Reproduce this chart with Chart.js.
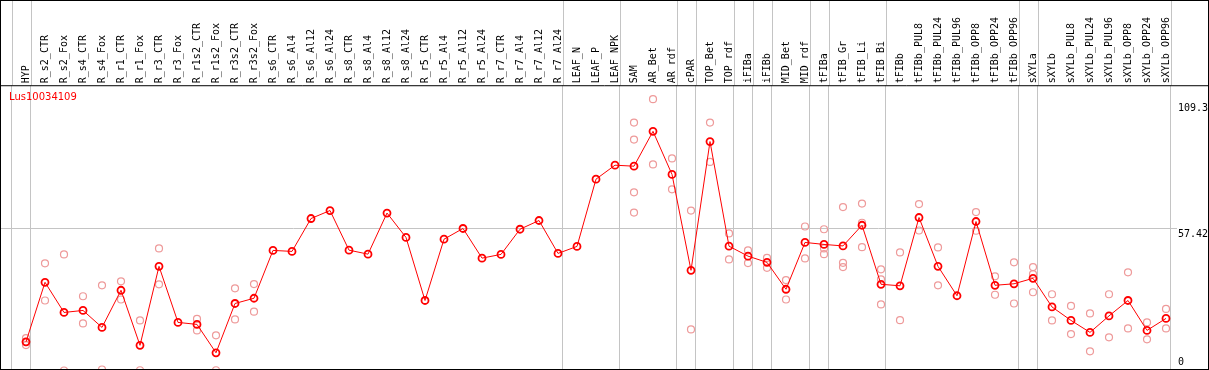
<!DOCTYPE html>
<html>
<head>
<meta charset="utf-8">
<script src="https://cdn.jsdelivr.net/npm/chart.js@4.4.0/dist/chart.umd.min.js"></script>
<style>
  html, body { margin: 0; padding: 0; background: #fff; }
  #wrap { width: 1209px; height: 370px; position: relative; }
</style>
</head>
<body>
<div id="wrap"><canvas id="chart"></canvas></div>
<script>
// Expression profile of one gene across tissues / treatments

const geneName = 'Lus10034109';

const categories = [
    'HYP',
    'R_s2_CTR', 'R_s2_Fox', 'R_s4_CTR', 'R_s4_Fox', 'R_r1_CTR', 'R_r1_Fox', 'R_r3_CTR', 'R_r3_Fox',
    'R_r1s2_CTR', 'R_r1s2_Fox', 'R_r3s2_CTR', 'R_r3s2_Fox',
    'R_s6_CTR', 'R_s6_Al4', 'R_s6_Al12', 'R_s6_Al24', 'R_s8_CTR', 'R_s8_Al4', 'R_s8_Al12', 'R_s8_Al24',
    'R_r5_CTR', 'R_r5_Al4', 'R_r5_Al12', 'R_r5_Al24', 'R_r7_CTR', 'R_r7_Al4', 'R_r7_Al12', 'R_r7_Al24',
    'LEAF_N', 'LEAF_P', 'LEAF_NPK',
    'SAM', 'AR_Bet', 'AR_rdf', 'cPAR', 'TOP_Bet', 'TOP_rdf', 'iFIBa', 'iFIBb', 'MID_Bet', 'MID_rdf',
    'tFIBa', 'tFIB_Gr', 'tFIB_Li', 'tFIB_Bi', 'tFIBb',
    'tFIBb_PUL8', 'tFIBb_PUL24', 'tFIBb_PUL96', 'tFIBb_OPP8', 'tFIBb_OPP24', 'tFIBb_OPP96',
    'sXYLa', 'sXYLb',
    'sXYLb_PUL8', 'sXYLb_PUL24', 'sXYLb_PUL96', 'sXYLb_OPP8', 'sXYLb_OPP24', 'sXYLb_OPP96'
];

// mean value per sample
const meanValues = [
    11.9, 35.8, 23.7, 24.5, 17.7, 32.6, 10.5, 42.2, 19.7, 18.9, 7.5, 27.3, 29.4,
    48.6, 48.2, 61.4, 64.6, 48.7, 47.1, 63.6, 53.8, 28.5, 53.1, 57.4, 45.5, 47.0, 57.1, 60.6, 47.4,
    50.2, 77.2, 82.8,
    82.4, 96.4, 79.1, 40.6, 92.3, 50.3, 46.3, 43.8, 33.0, 51.8,
    51.0, 50.4, 58.7, 35.0, 34.4,
    61.8, 42.2, 30.4, 60.2, 34.6, 35.2,
    37.4, 25.9,
    20.5, 15.7, 22.3, 28.5, 16.5, 21.3
];

// individual replicates per sample (empty = none shown)
const replicateValues = [
    [13.4, 11.8, 10.6],
    [43.4, 28.5], [47.0, 0.4], [30.2, 19.3], [34.6, 0.8], [36.2, 28.9], [20.5, 0.5], [49.4, 35.0], [],
    [21.1, 16.5], [14.5, 0.5], [33.4, 20.9], [35.1, 24.0],
    [], [], [], [], [], [], [], [], [], [], [], [], [], [], [], [],
    [], [], [],
    [99.9, 93.1, 71.9, 63.8], [109.3, 83.1], [85.5, 73.1], [64.6, 16.9], [99.9, 84.1], [55.4, 45.0],
    [48.6, 43.5], [45.6, 41.6], [36.7, 28.9], [58.2, 45.4],
    [57.1, 49.4, 47.1], [66.0, 43.6, 41.9], [67.4, 59.7, 49.9], [41.0, 37.0, 26.9], [47.8, 20.6],
    [67.2, 56.6], [49.8, 34.6], [], [64.0, 56.5], [38.2, 30.8], [43.8, 27.3],
    [41.9, 39.1, 31.8], [31.0, 20.5],
    [26.3, 15.0], [23.3, 8.1], [31.0, 13.7], [39.8, 17.3], [19.7, 12.9], [25.1, 17.3]
];

// index of the first sample of each group (column separators)
const groupStarts = [0, 1, 29, 32, 35, 36, 38, 39, 40, 42, 43, 46, 53, 54, 61];

const yTickValues = [0, 57.42, 109.3];
const yTickLabels = ['0', '57.42', '109.3'];

// separators sit a bit left of the sample position
const COL_SHIFT = -0.763;
const GRID = '#c4c4c4';
const MONO = '"DejaVu Sans Mono", monospace';

const meanPoints = meanValues.map((v, i) => ({ x: i, y: v }));
const repPoints = [];
replicateValues.forEach((reps, i) => {
    reps.forEach(v => repPoints.push({ x: i, y: v }));
});

const framePlugin = {
    id: 'frame',
    afterDraw(chart) {
        const { ctx, chartArea } = chart;
        const xs = chart.scales.x;
        const ys = chart.scales.y;
        ctx.save();
        ctx.lineWidth = 1;

        // separators continue up through the label header
        ctx.strokeStyle = GRID;
        groupStarts.forEach(b => {
            const px = Math.round(xs.getPixelForValue(b + COL_SHIFT)) + 0.5;
            ctx.beginPath();
            ctx.moveTo(px, 0);
            ctx.lineTo(px, chartArea.top);
            ctx.stroke();
        });

        // small stub of the middle grid line toward its label
        const gy = Math.round(ys.getPixelForValue(yTickValues[1])) + 0.5;
        ctx.beginPath();
        ctx.moveTo(chartArea.right, gy);
        ctx.lineTo(chartArea.right + 6, gy);
        ctx.stroke();

        // outer frame and header line
        ctx.strokeStyle = '#000';
        ctx.strokeRect(0.5, 0.5, chart.width - 1, chart.height - 1);
        ctx.beginPath();
        ctx.moveTo(0, chartArea.top + 0.5);
        ctx.lineTo(chart.width, chartArea.top + 0.5);
        ctx.stroke();

        // value labels on the right (kept inside the plot box)
        ctx.fillStyle = '#000';
        ctx.font = '10px ' + MONO;
        ctx.textAlign = 'left';
        ctx.textBaseline = 'middle';
        yTickValues.forEach((v, i) => {
            let py = ys.getPixelForValue(v) + 5.5;
            py = Math.max(Math.min(py, chartArea.bottom - 7), chartArea.top + 23);
            ctx.fillText(yTickLabels[i], chartArea.right + 7, py);
        });

        // gene name
        ctx.fillStyle = '#ff0000';
        ctx.font = '10px "DejaVu Sans", sans-serif';
        ctx.fillText(geneName, 9, chartArea.top + 12);
        ctx.restore();
    }
};

const noSidePadding = s => { s.paddingLeft = 0; s.paddingRight = 0; };

new Chart(document.getElementById('chart'), {
    type: 'line',
    data: {
        datasets: [{
            label: 'mean',
            data: meanPoints,
            borderColor: '#ff0000',
            borderWidth: 1,
            pointRadius: 3.5,
            pointBorderWidth: 1.8,
            pointBackgroundColor: 'rgba(0,0,0,0)',
            pointBorderColor: '#ff0000',
            showLine: true,
            clip: false,
            order: 0
        }, {
            label: 'replicates',
            data: repPoints,
            showLine: false,
            pointRadius: 3.5,
            pointBorderWidth: 1.2,
            pointBackgroundColor: 'rgba(0,0,0,0)',
            pointBorderColor: '#ee9a9a',
            clip: false,
            order: 1
        }]
    },
    options: {
        responsive: true,
        maintainAspectRatio: false,
        animation: false,
        events: [],
        layout: { autoPadding: false, padding: { top: 15, left: 1, right: 38, bottom: 1 } },
        scales: {
            x: {
                type: 'linear',
                position: 'bottom',
                min: -1.3158,
                max: 60.263,
                afterBuildTicks: s => { s.ticks = groupStarts.map(b => ({ value: b + COL_SHIFT })); },
                afterFit: noSidePadding,
                ticks: { display: false },
                grid: { color: GRID, lineWidth: 1, drawTicks: false },
                border: { display: false }
            },
            xTop: {
                type: 'linear',
                position: 'top',
                min: -1.3158,
                max: 60.263,
                afterBuildTicks: s => { s.ticks = categories.map((c, i) => ({ value: i })); },
                afterFit: noSidePadding,
                ticks: {
                    autoSkip: false,
                    minRotation: 90,
                    maxRotation: 90,
                    padding: 2,
                    labelOffset: 12,
                    color: '#000',
                    font: { family: MONO, size: 10 },
                    callback: v => categories[v]
                },
                grid: { display: false, drawTicks: false },
                border: { display: false }
            },
            y: {
                position: 'right',
                min: 1.0,
                max: 114.9,
                afterBuildTicks: s => { s.ticks = [{ value: yTickValues[1] }]; },
                ticks: { display: false },
                grid: { color: GRID, lineWidth: 1, drawTicks: false },
                border: { display: false }
            }
        },
        plugins: {
            legend: { display: false },
            tooltip: { enabled: false }
        }
    },
    plugins: [framePlugin]
});
</script>
</body>
</html>
